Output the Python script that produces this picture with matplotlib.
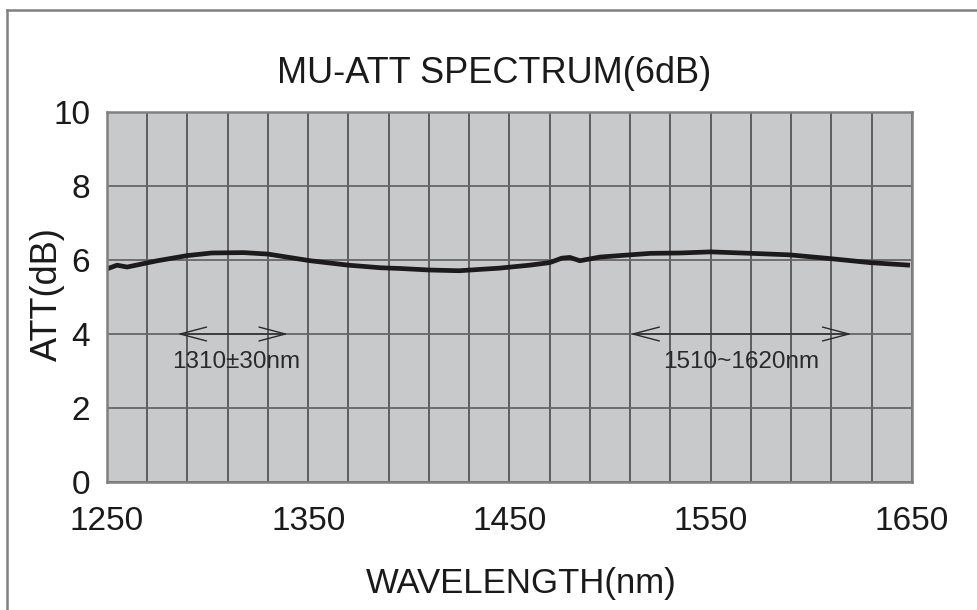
import matplotlib.pyplot as plt
from matplotlib.patches import ArrowStyle
from matplotlib.lines import Line2D

plt.rcParams['font.family'] = ['Liberation Sans', 'DejaVu Sans']

# spectrum
wavelength = [1250, 1255, 1260, 1275, 1290, 1302, 1318, 1330, 1351, 1370, 1386,
              1396, 1410, 1425, 1445, 1460, 1470, 1476, 1480, 1485, 1495, 1510,
              1520, 1535, 1550, 1570, 1589, 1609, 1629, 1649]
att = [5.76, 5.86, 5.81, 5.98, 6.12, 6.19, 6.2, 6.16, 5.98, 5.86, 5.79,
       5.77, 5.73, 5.71, 5.78, 5.86, 5.93, 6.05, 6.07, 5.98, 6.08, 6.14,
       6.18, 6.19, 6.22, 6.18, 6.14, 6.04, 5.93, 5.86]

x_ticks = [1250, 1350, 1450, 1550, 1650]
y_ticks = [0, 2, 4, 6, 8, 10]

bands = [(1285, 1340, "1310±30nm", 1314), (1510, 1620, "1510~1620nm", 1565)]
band_y = 4
band_text_y = 3.25


def plot_spectrum():
    fig = plt.figure(figsize=(9.78, 6.10), dpi=100)
    ax = fig.add_axes([0.1094, 0.2098, 0.8231, 0.6066])
    ax.set_facecolor('#c8c9cb')

    ax.set_xlim(1250, 1650)
    ax.set_ylim(0, 10)
    ax.set_xticks(range(1250, 1651, 20), minor=True)
    ax.set_xticks(x_ticks)
    ax.set_yticks(y_ticks)
    ax.grid(True, which='both', axis='x', color='#555555', lw=1.3)
    ax.grid(True, which='major', axis='y', color='#666666', lw=1.3)
    ax.tick_params(which='both', length=0)
    ax.tick_params(axis='x', pad=17, labelsize=24, colors='#1a1a1a')
    ax.tick_params(axis='y', pad=12, labelsize=24, colors='#1a1a1a')
    for sp in ax.spines.values():
        sp.set_color('#808080')
        sp.set_linewidth(1.8)

    ax.plot(wavelength, att, color='#1c1a1b', lw=3.4, solid_capstyle='butt')

    style = ArrowStyle('<->', head_length=1.9, head_width=0.5)
    for x0, x1, label, xt in bands:
        ax.annotate('', xy=(x0, band_y), xytext=(x1, band_y),
                    arrowprops=dict(arrowstyle=style, mutation_scale=10,
                                    lw=1.0, color='#2a2a2a',
                                    shrinkA=0, shrinkB=0))
        ax.text(xt, band_text_y, label, ha='center', va='center',
                fontsize=17.5, color='#2a2a2a')

    fig.text(494 / 978, 1 - 83 / 610, "MU-ATT SPECTRUM(6dB)", ha='center',
             va='baseline', fontsize=26, color='#1a1a1a')
    fig.text(521 / 978, 1 - 593 / 610, "WAVELENGTH(nm)", ha='center',
             va='baseline', fontsize=25, color='#1a1a1a')
    fig.text(47 / 978, 1 - 294 / 610, "ATT(dB)", ha='center', va='center',
             rotation=90, fontsize=26, color='#1a1a1a')

    # outer frame, cut off on the right and bottom
    fig.add_artist(Line2D([7 / 978, 7 / 978], [0, 1 - 10 / 610],
                          color='#808080', lw=1.8))
    fig.add_artist(Line2D([7 / 978, 1], [1 - 10 / 610, 1 - 10 / 610],
                          color='#808080', lw=1.8))

    fig.savefig('out.png', dpi=100)


def main():
    plot_spectrum()


if __name__ == "__main__":
    main()
